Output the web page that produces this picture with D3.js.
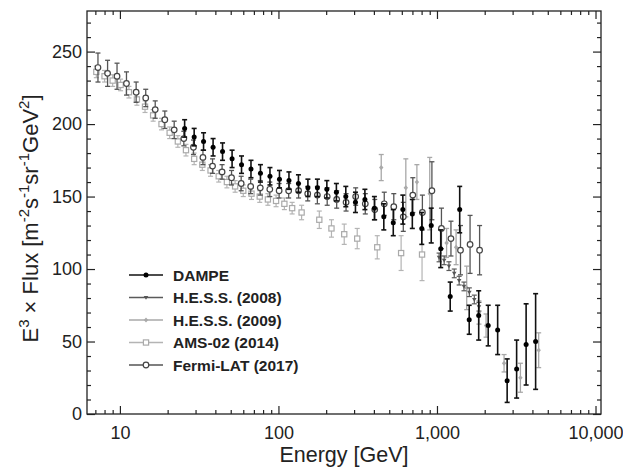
<!DOCTYPE html>
<html><head><meta charset="utf-8">
<script src="https://cdn.jsdelivr.net/npm/d3@7"></script>
<style>
body{margin:0;background:#fff}
svg{display:block}
text{font-family:"Liberation Sans",Arial,Helvetica,sans-serif}
</style>
</head><body>
<svg id="c" width="623" height="470"></svg>
<script>
// ---- data ----
const seriesNames = ["DAMPE","H.E.S.S. (2008)","H.E.S.S. (2009)","AMS-02 (2014)","Fermi-LAT (2017)"];

const dampeE = [25.6,29.4,33.7,38.7,44.4,51.0,58.5,67.1,77.0,88.4,101.5,116.5,133.7,153.4,176.1,202,232,266,306,351,403,462,530,609,699,802,920,1056,1212,1391,1597,1833,2104,2414,2771,3180,3650,4190];
const dampeV = [197,191,188,184,181,176,172,169,166,164,162,161,159,156,156,155,153,150,146,148,142,136,132,141,138,128,130,114,81,141,65,68,61,58,23,31,48,50];
const dampeErr = [6,6,6,6,6,6,6,6,6,6,6,6,6,6,6,6,6,7,7,7,8,9,9,10,10,11,12,13,10,16,10,17,14,17,15,20,28,33];

const fermiE = [7.27,8.36,9.59,11.0,12.66,14.55,16.7,19.2,22.0,25.3,29.1,33.4,38.4,44.1,50.6,58.2,66.8,76.8,88.2,101,116,134,153,176,203,233,267,307,353,405,465,534,613,704,809,929,1067,1225,1407,1617,1857];
const fermiV = [239,235,233,228,222,218,210,203,196,190,184,177,171,167,163,159,157,156,155,154,154,154,152,151,150,148,146,150,145,141,145,143,136,151,139,154,128,121,113,117,113];
const fermiErr = [10,9,9,8,7,6,6,6,6,5,5,5,5,5,5,5,5,5,5,5,5,5,5,6,6,6,6,6,7,7,8,9,10,12,12,20,14,12,17,20,17];

const amsE = [7.1,8.0,9.0,10.1,11.4,12.8,14.4,16.2,18.3,20.6,23.2,26.1,29.4,33.1,37.3,42.0,47.3,53.3,60.0,67.6,76.2,85.8,96.6,109,122,140,181,216,260,314,420,594,805];
const amsV = [236,233,230,227,222,217,212,206,200,194,188,182,176,172,168,164,160,157,154,152,150,148,147,145,142,139,134,128,124,121,115,111,110];
const amsErr = [4,4,4,4,4,4,4,4,4,4,4,4,4,4,4,4,4,4,4,4,4,4,4,4,4,5,6,6,7,7,8,12,18];

const hess08E = [1031,1110,1190,1285,1380,1480,1600,1720,1840];
const hess08V = [108,106,102,97,92,88,84,79,74];
const hess08Err = [3,3,3,3,3,3,3,3,3];

const hess09E = [445,636,747,900,1150,1320,1540,1840,2040,2650,3360,4380];
const hess09V = [170,156,160,152,118,115,87,70,61,35,25,44];
const hess09Err = [9,20,12,25,10,12,15,8,8,6,10,12];

const xTickValues = [10,100,1000,10000];
const yTickValues = [0,50,100,150,200,250];

// ---- layout ----
const svg = d3.select("#c");
const X0 = 87, X1 = 601, Y0 = 414, Y1 = 11;
const x = d3.scaleLog().domain([6.2,10830]).range([X0,X1]);
const y = d3.scaleLinear().domain([0,278]).range([Y0,Y1]);
const ink = "#222";

const minorX = [];
[1,10,100,1000].forEach(d=>{for(let m=2;m<10;m++){const v=d*m; if(v>6.2 && v<10830) minorX.push(v);}});
const minorY = d3.range(0,278,10).filter(v=>v%50!==0);

function styleAxis(g, labels){
  g.select(".domain").remove();
  g.selectAll(".tick line").attr("stroke",ink).attr("stroke-width",1.2);
  g.selectAll(".tick text").attr("fill",ink).attr("font-size",18)
    .attr("font-family",'"Liberation Sans",Arial,sans-serif');
  if(!labels) g.selectAll(".tick text").remove();
}
function axes(){
  let g = svg.append("g").attr("transform",`translate(0,${Y0})`)
    .call(d3.axisBottom(x).tickValues(xTickValues).tickFormat(d3.format(",")).tickSizeInner(-8).tickSizeOuter(0).tickPadding(12));
  styleAxis(g,true);
  g = svg.append("g").attr("transform",`translate(0,${Y0})`)
    .call(d3.axisBottom(x).tickValues(minorX).tickFormat("").tickSizeInner(-4).tickSizeOuter(0));
  styleAxis(g,false);
  g = svg.append("g").attr("transform",`translate(0,${Y1})`)
    .call(d3.axisTop(x).tickValues(xTickValues).tickFormat("").tickSizeInner(-8).tickSizeOuter(0));
  styleAxis(g,false);
  g = svg.append("g").attr("transform",`translate(0,${Y1})`)
    .call(d3.axisTop(x).tickValues(minorX).tickFormat("").tickSizeInner(-4).tickSizeOuter(0));
  styleAxis(g,false);
  g = svg.append("g").attr("transform",`translate(${X0},0)`)
    .call(d3.axisLeft(y).tickValues(yTickValues).tickSizeInner(-8).tickSizeOuter(0).tickPadding(5));
  styleAxis(g,true);
  g = svg.append("g").attr("transform",`translate(${X0},0)`)
    .call(d3.axisLeft(y).tickValues(minorY).tickFormat("").tickSizeInner(-4).tickSizeOuter(0));
  styleAxis(g,false);
  g = svg.append("g").attr("transform",`translate(${X1},0)`)
    .call(d3.axisRight(y).tickValues(yTickValues).tickFormat("").tickSizeInner(-8).tickSizeOuter(0));
  styleAxis(g,false);
  g = svg.append("g").attr("transform",`translate(${X1},0)`)
    .call(d3.axisRight(y).tickValues(minorY).tickFormat("").tickSizeInner(-4).tickSizeOuter(0));
  styleAxis(g,false);
  svg.append("rect").attr("x",X0).attr("y",Y1).attr("width",X1-X0).attr("height",Y0-Y1)
    .attr("fill","none").attr("stroke",ink).attr("stroke-width",1.3);
}

const styles = {
  "DAMPE":           {bar:"#111", bw:1.6, marker:"dot",      fill:"#000", stroke:"#000"},
  "H.E.S.S. (2008)": {bar:"#5a5a5a", bw:1.2, marker:"tri",   fill:"#555", stroke:"#555"},
  "H.E.S.S. (2009)": {bar:"#a8a8a8", bw:1.3, marker:"diamond",fill:"#aaa", stroke:"#aaa"},
  "AMS-02 (2014)":   {bar:"#b4b4b4", bw:1.2, marker:"square", fill:"#fff", stroke:"#aaa"},
  "Fermi-LAT (2017)":{bar:"#555", bw:1.3, marker:"circle",   fill:"#fff", stroke:"#444"}
};

function drawMarker(g, type, cx, cy, st){
  if(type==="dot") g.append("circle").attr("cx",cx).attr("cy",cy).attr("r",2.5).attr("fill",st.fill);
  else if(type==="circle") g.append("circle").attr("cx",cx).attr("cy",cy).attr("r",2.8).attr("fill",st.fill).attr("stroke",st.stroke).attr("stroke-width",1.2);
  else if(type==="square") g.append("rect").attr("x",cx-2.6).attr("y",cy-2.6).attr("width",5.2).attr("height",5.2).attr("fill",st.fill).attr("stroke",st.stroke).attr("stroke-width",1.2);
  else if(type==="tri") g.append("path").attr("d",`M${cx-2.3},${cy-1.6}L${cx+2.3},${cy-1.6}L${cx},${cy+2.2}Z`).attr("fill",st.fill);
  else if(type==="diamond") g.append("path").attr("d",`M${cx},${cy-2.6}L${cx+2.2},${cy}L${cx},${cy+2.6}L${cx-2.2},${cy}Z`).attr("fill",st.fill);
}

function drawSeries(name, E, V, Err){
  const st = styles[name];
  const g = svg.append("g");
  E.forEach((e,i)=>{
    const cx = x(e), lo = y(V[i]-Err[i]), hi = y(V[i]+Err[i]);
    g.append("line").attr("x1",cx).attr("x2",cx).attr("y1",lo).attr("y2",hi).attr("stroke",st.bar).attr("stroke-width",st.bw);
    [lo,hi].forEach(yy=>g.append("line").attr("x1",cx-2.5).attr("x2",cx+2.5).attr("y1",yy).attr("y2",yy).attr("stroke",st.bar).attr("stroke-width",st.bw));
    drawMarker(g, st.marker, cx, y(V[i]), st);
  });
}

axes();
drawSeries("AMS-02 (2014)", amsE, amsV, amsErr);
drawSeries("H.E.S.S. (2009)", hess09E, hess09V, hess09Err);
drawSeries("Fermi-LAT (2017)", fermiE, fermiV, fermiErr);
drawSeries("H.E.S.S. (2008)", hess08E, hess08V, hess08Err);
drawSeries("DAMPE", dampeE, dampeV, dampeErr);

// legend
const lg = svg.append("g");
seriesNames.forEach((n,i)=>{
  const st = styles[n];
  const cy = 275 + i*22.5;
  lg.append("line").attr("x1",129).attr("x2",163).attr("y1",cy).attr("y2",cy).attr("stroke",st.bar).attr("stroke-width",1.5);
  drawMarker(lg, st.marker, 146, cy, st);
  lg.append("text").attr("x",173).attr("y",cy).attr("dy","0.36em").attr("font-size",15.5).attr("font-weight","bold").attr("fill",ink).text(n);
});

// axis titles
svg.append("text").attr("x",(X0+X1)/2).attr("y",462).attr("text-anchor","middle").attr("font-size",21.5).attr("fill",ink).text("Energy [GeV]");

const yl = svg.append("text").attr("transform",`translate(38,${(Y0+Y1)/2+6}) rotate(-90)`).attr("text-anchor","middle").attr("font-size",22).attr("fill",ink);
const parts = [["E",0],["3",1],[" × Flux [m",0],["-2",1],["s",0],["-1",1],["sr",0],["-1",1],["GeV",0],["2",1],["]",0]];
let prevSup = 0;
parts.forEach(([t,sup])=>{
  const dy = sup===prevSup ? 0 : (sup ? -9 : 9);
  yl.append("tspan").attr("dy",dy).attr("font-size",sup?15:22).text(t);
  prevSup = sup;
});
</script>
</body></html>
